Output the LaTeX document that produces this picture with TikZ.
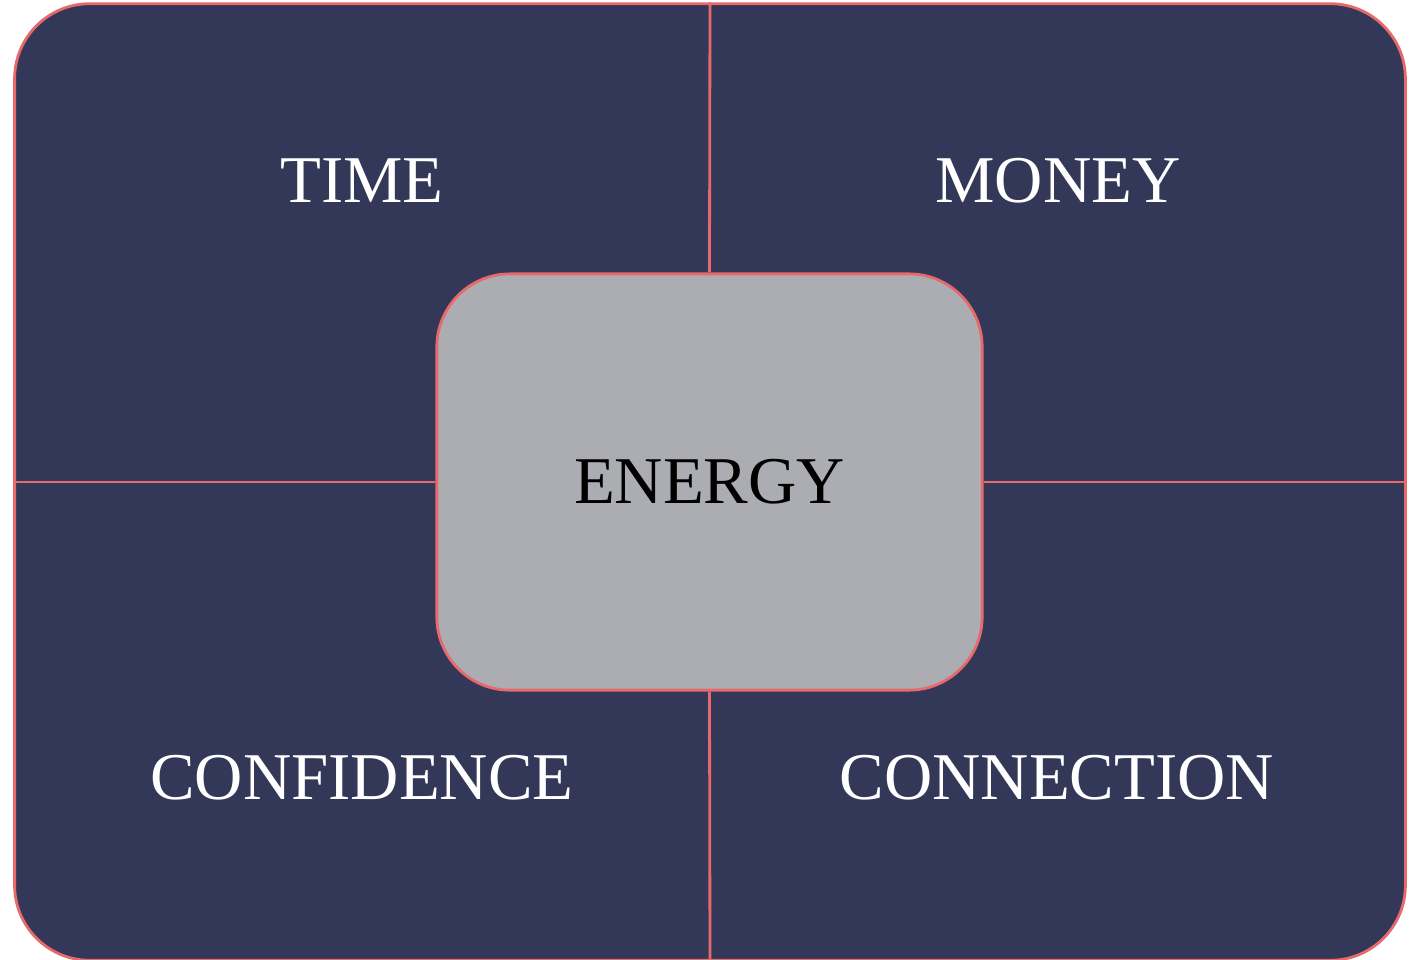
\documentclass[tikz,border=0pt]{standalone}
\usepackage{fontspec}
\setmainfont{Liberation Serif}
\usepackage{xcolor}
\definecolor{base00}{HTML}{333858}
\definecolor{base01}{HTML}{ACADB2}
\definecolor{base08}{HTML}{E8696B}
\usepackage{tikz}
\usetikzlibrary{positioning}
\tikzset{
    frame/.style={
        rectangle, draw=base08, line width=0.8pt,
        fill=base00,
        rounded corners=0.75cm,
        minimum width=13.9cm, minimum height=9.56cm
    },
    core/.style={
        rectangle, draw=base08, line width=0.8pt,
        fill=base01,
        rounded corners=0.73cm,
        minimum width=5.45cm, minimum height=4.16cm,
        font=\fontsize{19}{23}\selectfont
    },
    divider/.style={
        draw=base08, line width=0.8pt
    },
    label/.style={
        text=white, inner sep=0pt,
        font=\fontsize{19}{23}\selectfont
    },
}

\begin{document}
\begin{tikzpicture}[x=0.01cm, y=-0.01cm]
        \useasboundingbox (0,0) rectangle (1420,960);
        \node[frame] (board) at (710,482) {};
        \node[core] (energy) at (709.5,482) {ENERGY};

        % quadrant dividers
        \draw[divider] (board.north) -- (energy.north);
        \draw[divider] (energy.south) -- (board.south);
        \draw[divider] (board.west) -- (energy.west);
        \draw[divider] (energy.east) -- (board.east);

        \node[label] (time) at (362,181) {TIME};
        \node[label] (money) at (1058,181) {MONEY};
        \node[label] (confidence) at (362,778) {CONFIDENCE};
        \node[label] (connection) at (1057,778) {CONNECTION};
    \end{tikzpicture}
\end{document}
